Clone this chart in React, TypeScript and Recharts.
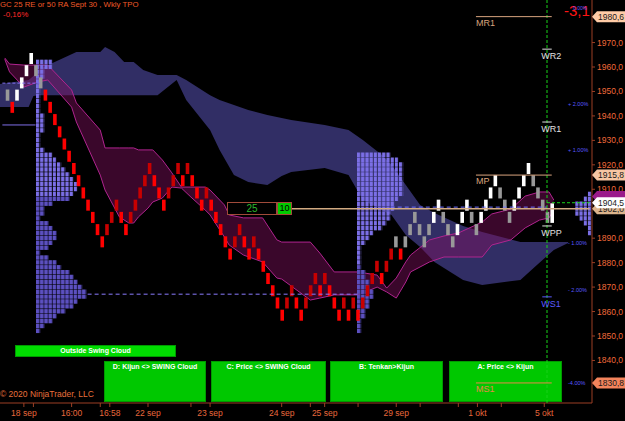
import React from 'react';
import { ComposedChart, Bar, Area, XAxis, YAxis, ReferenceLine, Cell } from 'recharts';

const FONT = '"Liberation Sans", Arial, sans-serif';
const CHART_W = 625;
const CHART_H = 421;
const AXIS_W = 33;
const AXIS_H = 18;
const Y_DOMAIN: [number, number] = [1822.6, 1987.4];
const SLOTS = 125;
const AXIS_COLOR = '#9c3f25';

// renko bricks: bottom of each brick, oldest first (brick i sits in slot i + 1)
const brickLows = [
  1946, 1941, 1946, 1951, 1956, 1961, 1956, 1951,
  1946, 1941, 1936, 1931, 1926, 1921, 1916, 1911, 1906, 1901, 1896, 1891, 1886,
  1891, 1896, 1901, 1896, 1891, 1896, 1901, 1906, 1911, 1916,
  1911, 1906, 1901, 1906, 1911, 1916, 1911, 1916, 1911, 1906,
  1901, 1906, 1901, 1896, 1891, 1886, 1881, 1886, 1891, 1886,
  1881, 1886, 1881, 1876, 1871, 1866, 1861, 1856, 1861, 1866,
  1861, 1856, 1861, 1866, 1871, 1866, 1871, 1866, 1861, 1856,
  1861, 1856, 1861, 1856, 1861, 1866, 1871, 1876, 1871, 1876,
  1881, 1886, 1881, 1886, 1891, 1896, 1891, 1886, 1891, 1896,
  1901, 1896, 1891, 1886, 1891, 1896, 1901, 1896, 1891, 1896,
  1901, 1906, 1911, 1906, 1901, 1896, 1901, 1906, 1911, 1916,
  1911, 1906, 1901, 1896, 1896,
];
// G gray, W white, R red, r dark red
const brickKinds =
  'GRWWWWGG' + 'RRRRRRRRRRRRR' + 'rrrRRrrrrr' + 'RRRrrrRrRR' + 'RrRRRRRrrR' +
  'RrRRRRRRrr' + 'RRrrrRrRRR' + 'rRrRrrrrRr' + 'rGRGGGGGGW' + 'WGGGWWWGGW' +
  'WWWGGGWWWW' + 'GGGGW';
const brickSize = 5;
const lastPrice = 1904.5;

// kumo (navy cloud)
const navySlots = [0, 6, 7, 8, 11, 16, 21, 22, 24, 26, 28, 30, 33, 37, 39, 44, 46, 49, 52, 56, 59, 61, 68, 73, 76, 80, 82, 85, 88, 91, 97, 101, 109, 112, 116, 119];
const navyHigh = [1953.0, 1954.7, 1956.3, 1958.8, 1961.6, 1966.1, 1966.1, 1968.2, 1966.1, 1962.0, 1962.0, 1958.8, 1956.7, 1956.7, 1954.7, 1948.5, 1946.5, 1944.5, 1942.4, 1940.4, 1939.1, 1938.3, 1936.3, 1934.2, 1930.1, 1924.0, 1919.9, 1911.7, 1903.6, 1900.3, 1895.0, 1892.5, 1888.4, 1888.4, 1888.4, 1888.4];
const navyLow = [1943.6, 1943.6, 1948.1, 1948.5, 1948.5, 1948.5, 1948.5, 1948.5, 1948.5, 1948.5, 1948.5, 1948.5, 1948.5, 1954.7, 1946.5, 1934.2, 1926.1, 1915.8, 1913.0, 1911.7, 1915.4, 1917.1, 1918.7, 1915.8, 1905.6, 1901.5, 1899.5, 1891.3, 1886.4, 1880.3, 1872.9, 1870.9, 1872.9, 1878.2, 1885.2, 1888.0];

// swing cloud (magenta)
const swingSlots = [1, 2, 5, 8, 10, 15, 16, 21, 22, 25, 27, 28, 29, 31, 32, 34, 36, 38, 40, 43, 44, 47, 48, 51, 55, 58, 59, 65, 67, 70, 75, 79, 81, 83, 85, 86, 90, 93, 96, 101, 103, 107, 110, 113, 115, 116];
const swingA = [1963.7, 1961.2, 1960.8, 1960.8, 1960.8, 1950.6, 1945.3, 1934.2, 1926.9, 1926.9, 1926.9, 1926.9, 1926.1, 1926.1, 1926.1, 1922.0, 1916.7, 1910.9, 1910.9, 1910.9, 1909.7, 1903.6, 1899.5, 1898.3, 1898.3, 1889.3, 1888.4, 1888.4, 1883.9, 1876.2, 1876.2, 1874.9, 1869.6, 1873.7, 1880.3, 1883.1, 1889.3, 1890.9, 1892.1, 1896.6, 1899.9, 1901.9, 1907.2, 1908.9, 1908.9, 1905.6];
const swingB = [1963.2, 1958.0, 1951.8, 1953.9, 1954.7, 1943.6, 1937.5, 1915.8, 1909.7, 1898.7, 1896.2, 1896.2, 1898.7, 1902.3, 1904.8, 1906.4, 1910.9, 1910.5, 1906.8, 1901.5, 1899.5, 1890.5, 1887.2, 1883.1, 1880.3, 1873.7, 1873.3, 1864.7, 1865.5, 1866.8, 1866.8, 1870.0, 1868.0, 1865.5, 1872.1, 1876.2, 1880.3, 1882.3, 1882.3, 1882.3, 1887.2, 1889.3, 1894.2, 1897.4, 1898.3, 1901.5];

const xTickSlots = [5, 7, 15, 21, 23, 31, 40, 44, 59, 65, 68, 75, 83, 88, 96, 100, 105, 114];
const xTickLabels = ['18 sep', '', '16:00', '', '16:58', '22 sep', '', '23 sep', '24 sep', '', '25 sep', '', '29 sep', '', '', '1 okt', '', '5 okt'];
// 1830, 1900 and 1980 sit under the price tags
const yTicks = [1840, 1850, 1860, 1870, 1880, 1890, 1910, 1920, 1930, 1940, 1950, 1960, 1970];

// TPO profiles: 2-pt rows, top row centre first
const leftTop = 1962;
const leftCounts = [4, 4, 2, 2, 1, 1, 1, 1, 1, 1, 1, 2, 2, 2, 2, 1, 1, 1, 2, 4, 5, 6, 7, 8, 9, 10, 10, 9, 8, 4, 2, 2, 1, 3, 4, 5, 5, 4, 3, 1, 3, 5, 6, 8, 9, 10, 11, 12, 12, 10, 9, 7, 5, 4, 2, 1];
const midTop = 1924;
const midCounts = [8, 10, 11, 11, 11, 11, 11, 11, 11, 10, 9, 9, 8, 8, 7, 6, 4, 3, 2, 1, 1, 1, 1, 1, 2, 2, 3, 3, 4, 4, 3, 3, 2, 2, 1, 1, 1];
const rightTop = 1908;
const rightCounts = [1, 2, 4, 4, 4, 3, 2, 1, 1];

// price tags on the axis (the magenta one is mostly covered, so it has no text)
const tagPrices = [1907.0, 1902.0, 1904.5, 1915.8, 1980.6, 1830.8];
const tagBg = ['#9a1a8a', '#dcb48c', '#ffffff', '#f7c6a3', '#ffcba6', '#f4845c'];

// monthly / weekly pivots
const monthNames = ['MR1', 'MP', 'MS1'];
const monthPrices = [1980.6, 1915.8, 1830.8];
const weekNames = ['WR2', 'WR1', 'WPP', 'WS1'];
const weekPrices = [1967.3, 1937.5, 1895.0, 1866.0];
const pctTexts = ['+ 2.00%', '+ 1.00%', '- 1.00%', '- 2.00%', '-4.00%'];
const pctPrices = [1944.8, 1926.0, 1888.0, 1868.8, 1830.7];

const fmt = (v: number) => v.toFixed(1).replace('.', ',');

const rows: any[] = Array.from({ length: SLOTS }, (_, s) => ({ s, brick: null, kind: '', navy: null, swing: null }));
brickLows.forEach((lo, i) => {
  const hi = i === brickLows.length - 1 ? lastPrice : lo + brickSize;
  rows[i + 1].brick = [lo + 0.25, hi - 0.25];
  rows[i + 1].kind = brickKinds[i];
});
navySlots.forEach((s, i) => { rows[s].navy = [navyLow[i], navyHigh[i]]; });
swingSlots.forEach((s, i) => { rows[s].swing = [swingB[i], swingA[i]]; });

const brickColor: Record<string, string> = { G: '#999999', W: '#ffffff', R: '#ff0000', r: '#c80000' };

const AxisTag = ({ viewBox, text, bg, fg }: any) => {
  const x = viewBox.x + viewBox.width;
  const y = viewBox.y;
  return (
    <g>
      <path d={`M${x},${y} L${x + 5},${y - 5.5} L${CHART_W},${y - 5.5} L${CHART_W},${y + 5.5} L${x + 5},${y + 5.5} Z`} fill={bg} />
      {text ? <text x={x + 6} y={y + 3} fontSize={8.5} fill={fg} fontFamily={FONT}>{text}</text> : null}
    </g>
  );
};

const SmallText = ({ x, y, text, color, size, anchor }: any) => (
  <text x={x} y={y} fontSize={size} fill={color} fontFamily={FONT} textAnchor={anchor || 'start'}>{text}</text>
);

// clouds and axes, drawn under the TPO profiles
const BackChart = () => (
  <ComposedChart width={CHART_W} height={CHART_H} data={rows} margin={{ top: 0, right: 0, bottom: 0, left: 0 }}>
    <XAxis
      dataKey="s"
      type="category"
      ticks={xTickSlots}
      interval={0}
      height={AXIS_H}
      tickFormatter={(v: any) => xTickLabels[xTickSlots.indexOf(v)] ?? ''}
      axisLine={{ stroke: AXIS_COLOR }}
      tickLine={{ stroke: AXIS_COLOR }}
      tickSize={4}
      tickMargin={3}
      tick={{ fill: '#e8683c', fontSize: 8.5, fontFamily: FONT }}
    />
    <YAxis
      orientation="right"
      type="number"
      width={AXIS_W}
      domain={Y_DOMAIN}
      allowDataOverflow
      ticks={yTicks}
      tickFormatter={fmt}
      axisLine={{ stroke: AXIS_COLOR }}
      tickLine={{ stroke: AXIS_COLOR }}
      tickSize={3}
      tickMargin={2}
      tick={{ fill: '#f06a3a', fontSize: 8.5, fontFamily: FONT }}
    />
    <Area dataKey="navy" type="linear" connectNulls fill="#34306a" fillOpacity={0.95} stroke="none" isAnimationActive={false} />
    <Area dataKey="swing" type="linear" connectNulls fill="#80105f" fillOpacity={0.45} stroke="#b0248f" strokeWidth={1} isAnimationActive={false} />
  </ComposedChart>
);

// bricks, levels and labels, drawn over the TPO profiles
const FrontChart = () => (
  <ComposedChart width={CHART_W} height={CHART_H} data={rows} margin={{ top: 0, right: AXIS_W, bottom: AXIS_H, left: 0 }}>
    <XAxis dataKey="s" type="category" hide />
    <YAxis type="number" hide domain={Y_DOMAIN} allowDataOverflow />
    <Bar dataKey="brick" barSize={3.6} isAnimationActive={false}>
      {rows.map((r, i) => <Cell key={i} fill={brickColor[r.kind] || 'none'} />)}
    </Bar>

    <ReferenceLine segment={[{ x: 0, y: 1953.4 }, { x: 8, y: 1953.4 }]} stroke="#8070f0" strokeDasharray="3 2" />
    <ReferenceLine segment={[{ x: 0, y: 1936.3 }, { x: 7, y: 1936.3 }]} stroke="#7f6fe8" />
    <ReferenceLine segment={[{ x: 18, y: 1867.1 }, { x: 75, y: 1867.1 }]} stroke="#8a7cff" strokeDasharray="4 3" />
    <ReferenceLine segment={[{ x: 82, y: 1902.7 }, { x: 115, y: 1902.7 }]} stroke="#7070ff" strokeDasharray="4 3" />
    <ReferenceLine segment={[{ x: 61, y: 1902.0 }, { x: 124, y: 1902.0 }]} stroke="#d2aa82" strokeWidth={1.5} />
    <ReferenceLine segment={[{ x: 115, y: lastPrice }, { x: 124, y: lastPrice }]} stroke="#19d119" strokeDasharray="3 2" />
    <ReferenceLine x={115} stroke="#19d119" strokeDasharray="3 2" />

    {monthNames.map((n, i) => (
      <ReferenceLine
        key={n}
        segment={[{ x: 100, y: monthPrices[i] }, { x: 116, y: monthPrices[i] }]}
        stroke={i === 2 ? '#e8864a' : '#d9a47e'}
        label={(p: any) => <SmallText x={p.viewBox.x} y={p.viewBox.y + 9} text={n} color={i === 2 ? '#e8864a' : '#d9a47e'} size={9} />}
      />
    ))}
    {weekNames.map((n, i) => (
      <ReferenceLine
        key={n}
        segment={[{ x: 114, y: weekPrices[i] }, { x: 116, y: weekPrices[i] }]}
        stroke={i === 3 ? '#5a5aff' : '#e0e0e0'}
        label={(p: any) => <SmallText x={p.viewBox.x - 1} y={p.viewBox.y + 10} text={n} color={i === 3 ? '#5a5aff' : '#e0e0e0'} size={9} />}
      />
    ))}
    {pctTexts.map((t, i) => (
      <ReferenceLine
        key={t}
        y={pctPrices[i]}
        stroke="none"
        label={(p: any) => <SmallText x={p.viewBox.x + p.viewBox.width - 24} y={p.viewBox.y + 2} text={t} color="#5a5aff" size={5.5} />}
      />
    ))}
    {tagPrices.map((v, i) => (
      <ReferenceLine
        key={i}
        y={v}
        stroke="none"
        label={(p: any) => <AxisTag viewBox={p.viewBox} text={i === 0 ? '' : fmt(v)} bg={tagBg[i]} fg="#1a1a1a" />}
      />
    ))}
  </ComposedChart>
);

const TPO_W = 4.2;
const ROW_PX = (2 * (CHART_H - AXIS_H)) / (Y_DOMAIN[1] - Y_DOMAIN[0]);

const Profile = ({ id, left, width, top, counts, split, reversed }: any) => {
  const data = counts.map((n: number, i: number) => ({ p: top - 2 * i, n }));
  return (
    <div style={{ position: 'absolute', left, top: 0 }}>
      <ComposedChart layout="vertical" width={width} height={CHART_H} data={data} margin={{ top: 0, right: 0, bottom: AXIS_H, left: 0 }}>
        <defs>
          <pattern id={`${id}l`} width={TPO_W} height={10} patternUnits="userSpaceOnUse">
            <rect width={3.2} height={10} fill="#7b6fe6" />
          </pattern>
          <pattern id={`${id}d`} width={TPO_W} height={10} patternUnits="userSpaceOnUse">
            <rect width={TPO_W} height={10} fill="#1c1844" />
            <rect width={3.2} height={10} fill="#5c50c0" />
          </pattern>
        </defs>
        <XAxis type="number" hide domain={[0, width / TPO_W]} reversed={reversed} allowDataOverflow />
        <YAxis type="number" dataKey="p" hide domain={Y_DOMAIN} allowDataOverflow reversed />
        <Bar dataKey="n" barSize={ROW_PX} isAnimationActive={false}>
          {data.map((d: any, i: number) => <Cell key={i} fill={d.p < split ? `url(#${id}d)` : `url(#${id}l)`} />)}
        </Bar>
      </ComposedChart>
    </div>
  );
};

const SignalBox = ({ left, top, width, height, text, bright }: any) => (
  <div
    style={{
      position: 'absolute', left, top, width, height, boxSizing: 'border-box',
      background: bright ? '#00dc00' : '#00c800', border: '1px solid #009a00',
      color: '#ffffff', fontSize: 7, fontWeight: 'bold', textAlign: 'center',
      lineHeight: '10px', whiteSpace: 'nowrap',
    }}
  >
    {text}
  </div>
);

const layer: React.CSSProperties = { position: 'absolute', left: 0, top: 0 };

export default function App() {
  return (
    <div style={{ position: 'fixed', left: 0, top: 0, width: CHART_W, height: CHART_H, background: '#000', overflow: 'hidden', fontFamily: FONT }}>
      <SignalBox left={15} top={345} width={161} height={12} text="Outside Swing Cloud" bright />
      <SignalBox left={104} top={361} width={102} height={41} text="D: Kijun <> SWING Cloud" />
      <SignalBox left={211} top={361} width={115} height={41} text="C: Price <> SWING Cloud" />
      <SignalBox left={330} top={361} width={113} height={41} text="B: Tenkan>Kijun" />
      <SignalBox left={449} top={361} width={113} height={41} text="A: Price <> Kijun" />

      <div style={layer}><BackChart /></div>

      <Profile id="pl" left={36} width={56} top={leftTop} counts={leftCounts} split={1908} />
      <Profile id="pm" left={357} width={50} top={midTop} counts={midCounts} split={1880} />
      <Profile id="pr" left={571} width={21} top={rightTop} counts={rightCounts} split={0} reversed />

      <div style={layer}><FrontChart /></div>

      <div style={{ position: 'absolute', left: 227, top: 202, width: 50, height: 13, boxSizing: 'border-box', border: '1px solid #a04a3a', background: '#000', color: '#2db82d', fontSize: 10, textAlign: 'center', lineHeight: '11px' }}>25</div>
      <div style={{ position: 'absolute', left: 277, top: 202, width: 15, height: 13, boxSizing: 'border-box', border: '1px solid #a04a3a', background: '#00cc00', color: '#000', fontSize: 9, textAlign: 'center', lineHeight: '11px' }}>10</div>

      <div style={{ position: 'absolute', left: 0, top: 0, color: '#f05a28', fontSize: 7.8, whiteSpace: 'nowrap' }}>GC 25 RE or 50 RA Sept 30 , Wkly TPO</div>
      <div style={{ position: 'absolute', left: 3, top: 10, color: '#ff2a2a', fontSize: 8, whiteSpace: 'nowrap' }}>-0,16%</div>
      <div style={{ position: 'absolute', left: 0, top: 389, color: '#e8703c', fontSize: 8.5, whiteSpace: 'nowrap' }}>© 2020 NinjaTrader, LLC</div>
      <div style={{ position: 'absolute', left: 564, top: 2, color: '#ff1414', fontSize: 15, whiteSpace: 'nowrap' }}>-3,1</div>
      <div style={{ position: 'absolute', left: 573, top: 5, color: '#5a5aff', fontSize: 5, whiteSpace: 'nowrap' }}>0.00%</div>
    </div>
  );
}
